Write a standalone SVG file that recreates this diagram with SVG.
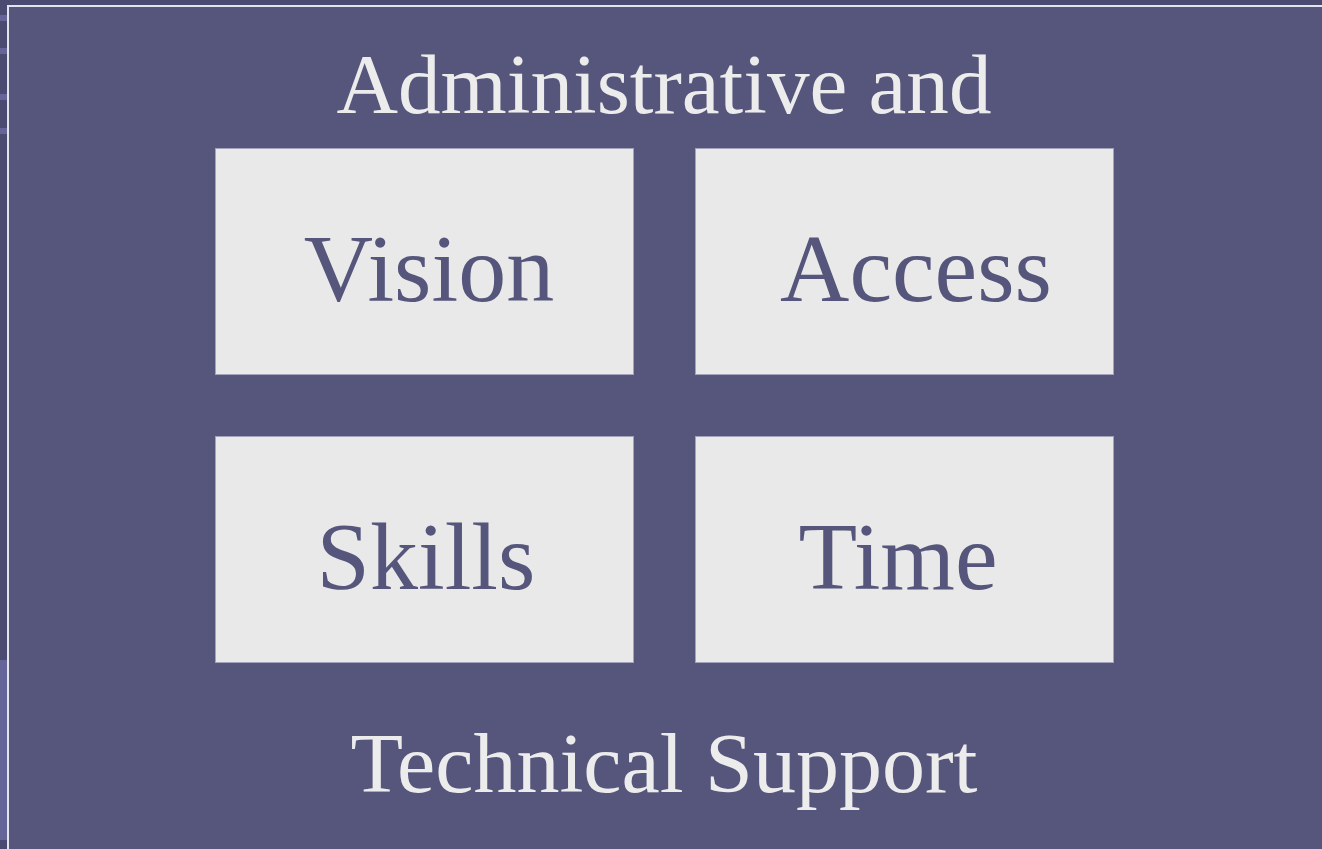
<svg xmlns="http://www.w3.org/2000/svg" width="1322" height="849" viewBox="0 0 1322 849">
<style>
.box{fill:#e9e9e9;stroke:#a4a4bf;stroke-width:1}
.lbl{font-family:"Liberation Serif","Times New Roman",serif;font-size:96px;fill:#56567c;text-anchor:middle}
.ttl{font-family:"Liberation Serif","Times New Roman",serif;font-size:84px;fill:#ececec;text-anchor:middle}
.stripe{fill:#65659a}
</style>
<rect x="0" y="0" width="1322" height="849" fill="#4b4a70"/>
<g id="stripes">
<rect class="stripe" x="0" y="15" width="8" height="6"/>
<rect class="stripe" x="0" y="48" width="8" height="6"/>
<rect class="stripe" x="0" y="94" width="8" height="6"/>
<rect class="stripe" x="0" y="128" width="8" height="6"/>
<rect class="stripe" x="0" y="660" width="8" height="180"/>
</g>
<g id="panel">
<rect x="8" y="6" width="1320" height="850" fill="#56567c" stroke="#e4e4f0" stroke-width="2"/>
<text class="ttl" x="664" y="113" textLength="655" lengthAdjust="spacingAndGlyphs">Administrative and</text>
<text class="ttl" x="664" y="792" textLength="627" lengthAdjust="spacingAndGlyphs">Technical Support</text>
</g>
<g id="vision">
<rect class="box" x="215.5" y="148.5" width="418" height="226"/>
<text class="lbl" x="429" y="301">Vision</text>
</g>
<g id="access">
<rect class="box" x="695.5" y="148.5" width="418" height="226"/>
<text class="lbl" x="916" y="301">Access</text>
</g>
<g id="skills">
<rect class="box" x="215.5" y="436.5" width="418" height="226"/>
<text class="lbl" x="426" y="589">Skills</text>
</g>
<g id="time">
<rect class="box" x="695.5" y="436.5" width="418" height="226"/>
<text class="lbl" x="898" y="589">Time</text>
</g>
<g id="connectors"></g>
</svg>
